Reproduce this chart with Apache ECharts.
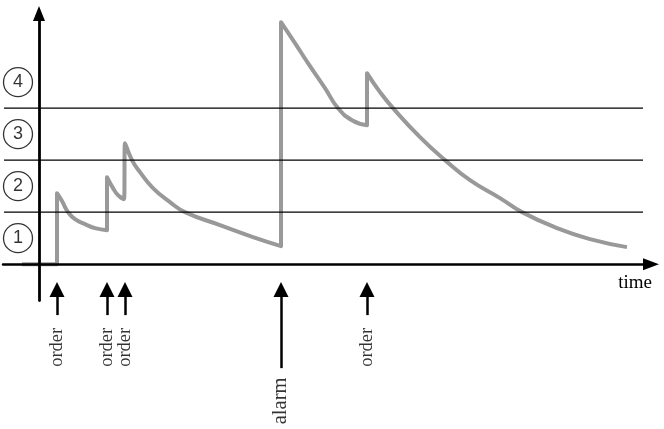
<!DOCTYPE html>
<html>
<head>
<meta charset="utf-8">
<script src="https://cdn.jsdelivr.net/npm/echarts@6/dist/echarts.min.js"></script>
<style>
  html, body { margin: 0; padding: 0; background: #fff; }
  #chart { width: 664px; height: 429px; }
</style>
</head>
<body>
<div id="chart"></div>
<script>
// ---- data ----
const levelNames = ['1', '2', '3', '4'];
const thresholds = [1, 2, 3];
const eventTimes = [18, 68, 86, 242, 328];
const eventNames = ['order', 'order', 'order', 'alarm', 'order'];
const curveTime = [-17, 18, 18, 23, 29, 36, 46, 56, 68, 68,
                   74, 79, 85, 86, 93, 101, 114, 131, 146, 181,
                   214, 242, 242, 256, 269, 286, 299, 313, 328, 328,
                   341, 354, 381, 406, 431, 461, 483, 518, 551, 588];
const curveLevel = [0, 0, 1.365, 1.212, 1.0, 0.865, 0.769, 0.692, 0.654, 1.673,
                    1.462, 1.327, 1.25, 2.327, 2.0, 1.769, 1.462, 1.192, 1.0, 0.75,
                    0.519, 0.346, 4.654, 4.25, 3.865, 3.385, 3.0, 2.769, 2.673, 3.673,
                    3.308, 3.0, 2.442, 2.0, 1.615, 1.269, 1.0, 0.692, 0.481, 0.327];

// ---- build option ----
const curveData = curveTime.map((t, i) => [t, curveLevel[i]]);
const lineStart = -35, lineEnd = 604;
const thresholdSeries = thresholds.map(th => ({
  type: 'line',
  data: [[lineStart, th], [lineEnd, th]],
  symbol: 'none',
  silent: true,
  z: 3,
  lineStyle: { color: '#000', width: 1.2 }
}));

const arrowTop = -0.49;
const arrowBottom = { order: -0.98, alarm: -2.0 };
const labelY = { order: -1.6, alarm: -2.63 };
const labelSize = { order: 18.5, alarm: 20.5 };

const arrowsData = eventTimes.map((t, i) => ({
  coords: [[t, arrowBottom[eventNames[i]]], [t, arrowTop]]
}));
const labelData = eventTimes.map((t, i) => ({
  value: [t, labelY[eventNames[i]]],
  name: eventNames[i],
  label: { fontSize: labelSize[eventNames[i]] }
}));
const circleData = levelNames.map((n, i) => ({ value: [-21, i + 0.5], name: n }));

const chart = echarts.init(document.getElementById('chart'), null, { renderer: 'canvas' });
chart.setOption({
  animation: false,
  backgroundColor: '#fff',
  grid: { left: 3, right: 13, top: 13.5, bottom: 128.46, containLabel: false },
  xAxis: {
    type: 'value', min: -36, max: 612, z: 5,
    name: 'time', nameLocation: 'end', nameGap: 1,
    nameTextStyle: { fontFamily: 'Liberation Serif', fontSize: 19, color: '#000',
                     align: 'right', verticalAlign: 'top', padding: [9, 0, 0, 0] },
    axisLine: { onZero: true, lineStyle: { color: '#000', width: 2.5 },
                symbol: ['none', 'triangle'], symbolSize: [12, 16] },
    axisTick: { show: false }, axisLabel: { show: false }, splitLine: { show: false }
  },
  yAxis: {
    type: 'value', min: -0.7, max: 4.82, z: 5,
    axisLine: { onZero: true, lineStyle: { color: '#000', width: 2.8 },
                symbol: ['none', 'triangle'], symbolSize: [12, 15] },
    axisTick: { show: false }, axisLabel: { show: false }, splitLine: { show: false }
  },
  series: [
    {
      type: 'line', data: curveData, symbol: 'none', z: 2, silent: true, smooth: 0.5,
      lineStyle: { color: '#999999', width: 4, join: 'round' }
    },
    ...thresholdSeries,
    {
      type: 'scatter', data: circleData, symbol: 'circle', symbolSize: 29, z: 4, silent: true,
      itemStyle: { color: '#fff', borderColor: '#000', borderWidth: 1.3 },
      label: { show: true, position: 'inside', formatter: p => p.name,
               fontFamily: 'Liberation Sans', fontSize: 18, color: '#000' }
    },
    {
      type: 'lines', coordinateSystem: 'cartesian2d', data: arrowsData, clip: false, silent: true,
      symbol: ['none', 'triangle'], symbolSize: [11, 15],
      lineStyle: { color: '#000', width: 2.5, opacity: 1 }
    },
    {
      type: 'scatter', data: labelData, symbol: 'circle', symbolSize: 1, clip: false, silent: true,
      itemStyle: { color: 'rgba(0,0,0,0)' },
      label: { show: true, position: 'inside', rotate: 90, formatter: p => p.name,
               fontFamily: 'Liberation Serif', fontSize: 18, color: '#000',
               align: 'center', verticalAlign: 'middle' }
    }
  ]
});
</script>
</body>
</html>
